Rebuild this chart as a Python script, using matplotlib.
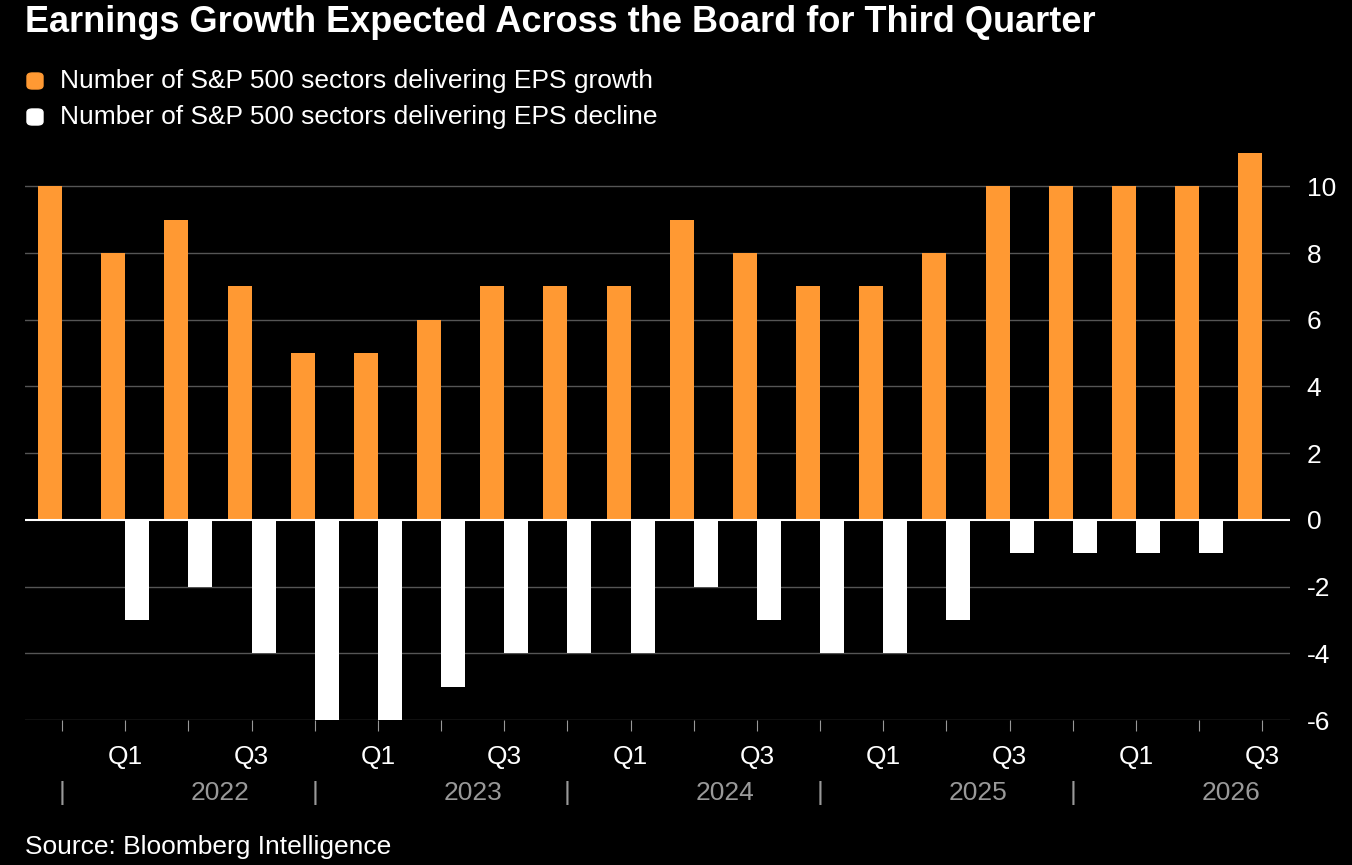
import numpy as np
import matplotlib
matplotlib.use('Agg')
import matplotlib.pyplot as plt
from matplotlib.patches import FancyBboxPatch

# ---------------- DATA ----------------
quarters = ['Q4', 'Q1', 'Q2', 'Q3', 'Q4', 'Q1', 'Q2', 'Q3', 'Q4', 'Q1',
            'Q2', 'Q3', 'Q4', 'Q1', 'Q2', 'Q3', 'Q4', 'Q1', 'Q2', 'Q3']
growth = [10, 8, 9, 7, 5, 5, 6, 7, 7, 7, 9, 8, 7, 7, 8, 10, 10, 10, 10, 11]
decline = [0, -3, -2, -4, -6, -6, -5, -4, -4, -4, -2, -3, -4, -4, -3, -1, -1, -1, -1, 0]
years = ['2022', '2023', '2024', '2025', '2026']

orange = '#ff9933'
grey = '#999999'

plt.rcParams['font.family'] = ['Liberation Sans', 'DejaVu Sans']

fig = plt.figure(figsize=(13.52, 8.65), dpi=100, facecolor='black')
ax = fig.add_axes([25 / 1352, 145 / 865, 1265 / 1352, 567 / 865], facecolor='black')

x = np.arange(len(quarters))
w = 0.38
ax.bar(x - w / 2, growth, width=w, color=orange, zorder=3)
ax.bar(x + w / 2, decline, width=w, color='white', zorder=3)

ax.set_xlim(-0.586, 19.44)
ax.set_ylim(-6, 11)
ax.axhline(0, color='white', lw=1.5, zorder=4)
for yv in range(-6, 11, 2):
    if yv != 0:
        ax.axhline(yv, color='#555555', lw=1, zorder=1)

ax.yaxis.tick_right()
ax.set_yticks(range(-6, 11, 2))
ax.set_yticklabels([str(v) for v in range(-6, 11, 2)], color='white', fontsize=19)
ax.tick_params(axis='y', length=0, pad=12)
ax.set_xticks(x)
ax.set_xticklabels([q if q in ('Q1', 'Q3') else '' for q in quarters], color='white', fontsize=19)
ax.tick_params(axis='x', length=8, color=grey, pad=10)
for s in ax.spines.values():
    s.set_visible(False)

# year labels and separators
trans = ax.get_xaxis_transform()
for i, yr in enumerate(years):
    start = 1 + 4 * i
    ax.text(start + 1.5, -0.108, yr, color=grey, fontsize=19, ha='center', va='top', transform=trans)
    ax.text(start - 1, -0.108, '|', color=grey, fontsize=19, ha='center', va='top', transform=trans)

fig.text(25 / 1352, 1 - 22 / 865, 'Earnings Growth Expected Across the Board for Third Quarter',
         color='white', fontsize=26, fontweight='bold', va='center')
legend_items = [(orange, 'Number of S&P 500 sectors delivering EPS growth', 81),
                ('white', 'Number of S&P 500 sectors delivering EPS decline', 117)]
for col, lab, yp in legend_items:
    fig.patches.append(FancyBboxPatch((27 / 1352, 1 - (yp + 8) / 865), 16 / 1352, 16 / 865,
                                      boxstyle='round,pad=0,rounding_size=0.004',
                                      transform=fig.transFigure, color=col))
    fig.text(60 / 1352, 1 - yp / 865, lab, color='white', fontsize=19, va='center')
fig.text(25 / 1352, 1 - 847 / 865, 'Source: Bloomberg Intelligence', color='white', fontsize=19, va='center')

fig.savefig('out.png', dpi=100, facecolor='black')
